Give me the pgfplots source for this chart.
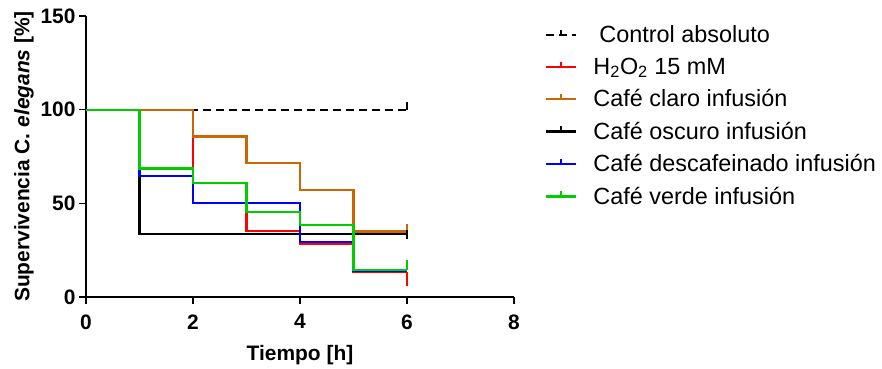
\documentclass[border=0pt]{standalone}
\usepackage{pgfplots}
\pgfplotsset{compat=1.18}
\usepackage{fontspec}
\setmainfont{Liberation Sans}
\definecolor{corange}{RGB}{204,102,0}
\definecolor{cgreen}{RGB}{0,204,0}
\definecolor{cred}{RGB}{255,0,0}
\definecolor{cblue}{RGB}{0,0,255}
\begin{document}
\begin{tikzpicture}
\useasboundingbox (0,0) rectangle (882bp,369bp);
\begin{axis}[
 at={(86bp,72bp)}, anchor=south west,
 scale only axis, width=428bp, height=281bp,
 xmin=0, xmax=8, ymin=0, ymax=150,
 axis x line*=bottom, axis y line*=left,
 axis line style={-, line width=1.6bp, black},
 xtick={0,2,4,6,8}, ytick={0,50,100,150},
 tick align=outside, major tick length=7bp,
 tick style={line width=1.6bp, black},
 /pgf/number format/assume math mode=true,
 tick label style={font=\fontsize{21}{21}\selectfont\bfseries},
 xticklabel style={yshift=-7bp},
 xlabel={Tiempo [h]},
 xlabel style={yshift=-9bp},
 ylabel={Supervivencia C. \textit{elegans} [\%]},
 label style={font=\fontsize{21}{21}\selectfont\bfseries},
 legend style={at={(1,1)}, anchor=north west, xshift=28bp, yshift=-5.5bp,
   draw=none, fill=none, font=\fontsize{23.5}{27}\selectfont,
   row sep=9.8bp, column sep=14bp, cells={anchor=west}},
 legend image code/.code={
   \draw[#1] (0bp,0bp) -- (30bp,0bp);
   \draw[#1, solid] (15bp,0bp) -- (15bp,5bp);},
 every axis plot/.append style={line width=2.3bp, mark=none, line join=miter},
]
\addplot[black, dash pattern=on 8bp off 5bp] coordinates {(0,100) (6,100)};
\addlegendentry{\hspace{6bp}Control absoluto}
\addplot[cred] coordinates {(0,100) (2,100) (2,61) (3,61) (3,35.2) (4,35.2) (4,28.3) (5,28.3) (5,13.5) (6,13.5)};
\addlegendentry{H\textsubscript{2}O\textsubscript{2} 15 mM}
\addplot[corange] coordinates {(0,100) (2,100) (2,85.7) (3,85.7) (3,71.4) (4,71.4) (4,57.1) (5,57.1) (5,35) (6,35)};
\addlegendentry{Café claro infusión}
\addplot[black] coordinates {(0,100) (1,100) (1,33.5) (6,33.5)};
\addlegendentry{Café oscuro infusión}
\addplot[cblue] coordinates {(0,100) (1,100) (1,64.5) (2,64.5) (2,50) (4,50) (4,29.5) (5,29.5) (5,14) (6,14)};
\addlegendentry{Café descafeinado infusión}
\addplot[cgreen] coordinates {(0,100) (1,100) (1,68.6) (2,68.6) (2,61) (3,61) (3,45.5) (4,45.5) (4,38.4) (5,38.4) (5,14.5) (6,14.5)};
\addlegendentry{Café verde infusión}
% censoring ticks at the end
\addplot[black, forget plot, line width=1.6bp] coordinates {(6,100) (6,104)};
\addplot[cred, forget plot, line width=1.6bp] coordinates {(6,13.5) (6,6)};
\addplot[corange, forget plot, line width=1.6bp] coordinates {(6,35) (6,39)};
\addplot[black, forget plot, line width=1.6bp] coordinates {(6,31) (6,36)};
\addplot[cgreen, forget plot, line width=1.6bp] coordinates {(6,14.5) (6,19.5)};
\end{axis}
\end{tikzpicture}
\end{document}
